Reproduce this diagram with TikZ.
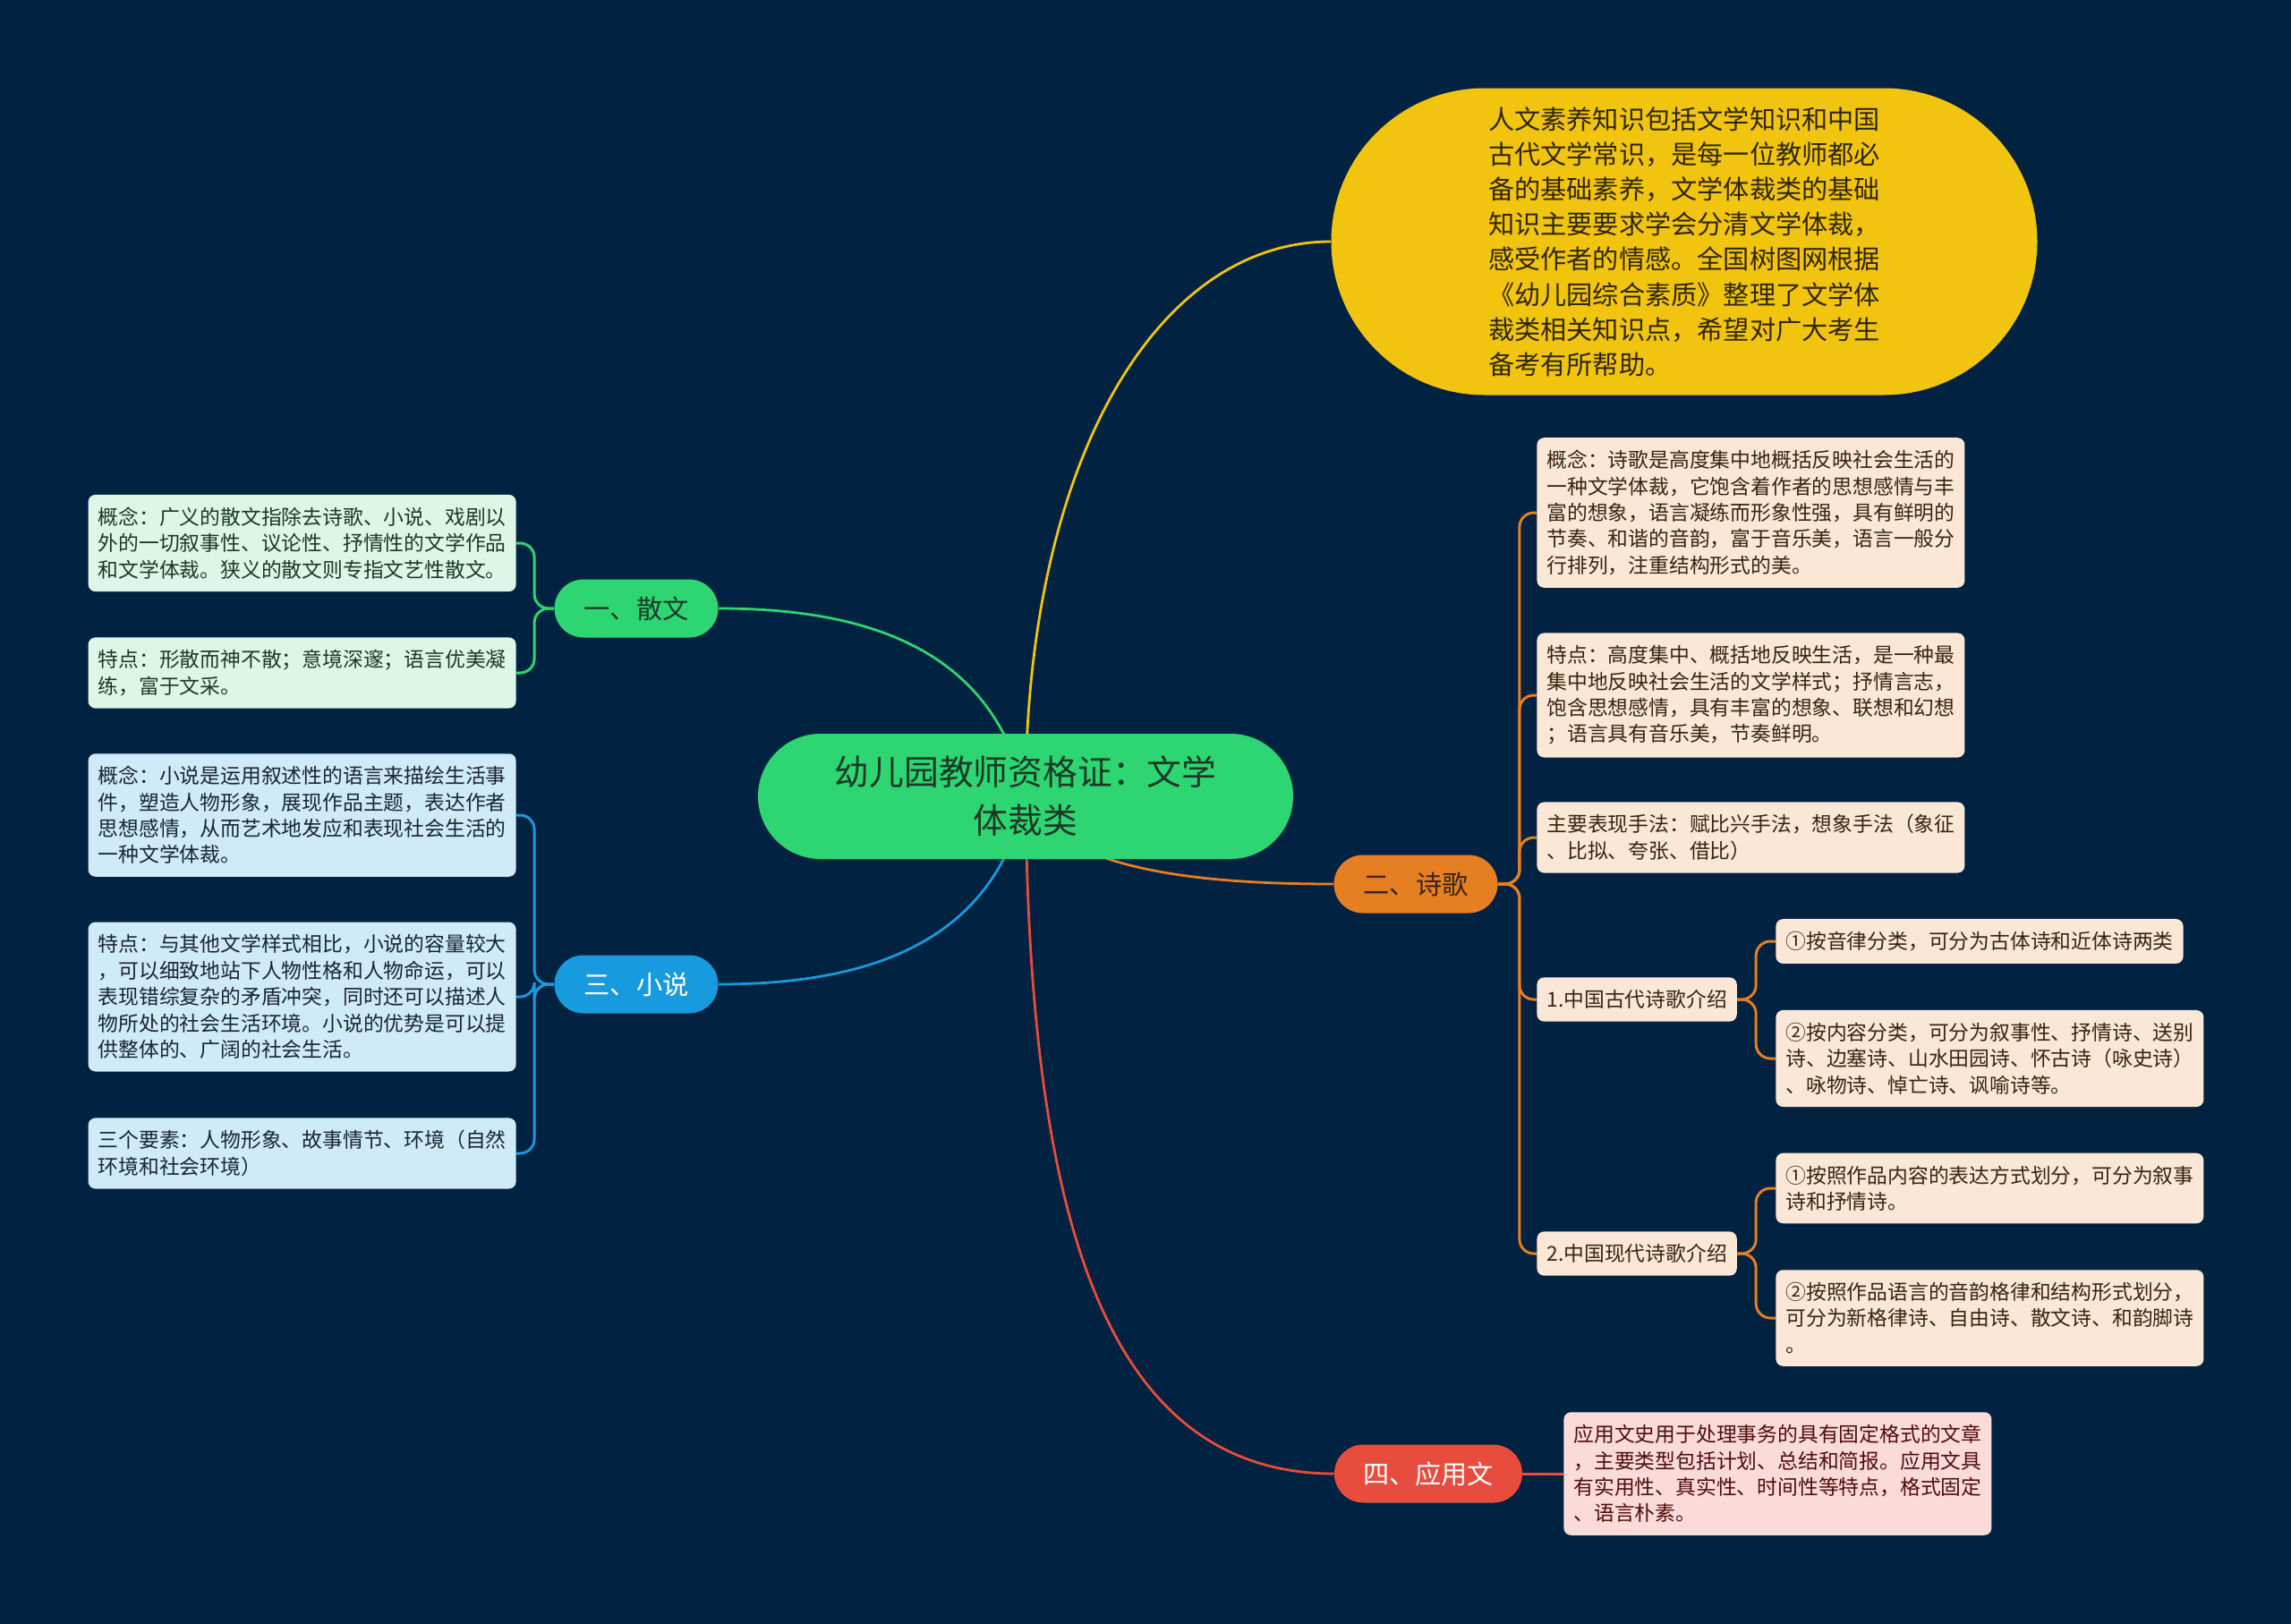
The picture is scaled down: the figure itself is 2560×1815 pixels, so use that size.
\documentclass[tikz,border=0pt]{standalone}
\usepackage{fontspec}
\setmainfont{Noto Sans CJK SC}
\usetikzlibrary{shapes.misc}
\usetikzlibrary{backgrounds}
\definecolor{bg}{RGB}{1,34,64}
\definecolor{grn}{RGB}{46,213,115}
\definecolor{grnleaf}{RGB}{222,246,232}
\definecolor{grntext}{RGB}{26,58,38}
\definecolor{blu}{RGB}{24,154,222}
\definecolor{bluleaf}{RGB}{207,234,248}
\definecolor{blutext}{RGB}{24,38,52}
\definecolor{org}{RGB}{230,126,34}
\definecolor{orgleaf}{RGB}{250,231,214}
\definecolor{orgtext}{RGB}{58,36,16}
\definecolor{rd}{RGB}{231,76,60}
\definecolor{rdleaf}{RGB}{250,219,216}
\definecolor{rdtext}{RGB}{80,12,12}
\definecolor{yel}{RGB}{241,196,15}
\definecolor{yeltext}{RGB}{48,38,0}

\begin{document}
\begin{tikzpicture}[x=0.5pt, y=-0.5pt,
  pill/.style={rounded rectangle, inner xsep=0pt, inner ysep=0pt, align=center},
  branch/.style={pill, minimum width=91.5pt, minimum height=32.5pt, font=\fontsize{14.6}{17}\selectfont},
  leafbox/.style={rounded corners=4pt, inner xsep=5.5pt, inner ysep=7pt, align=left, font=\fontsize{11.4}{14.7}\selectfont},
  lnk/.style={line width=1.5pt, rounded corners=8pt}]
\useasboundingbox (0,0) rectangle (2560,1815);
% centre and intro
\node[pill, fill=grn, text=grntext, minimum width=299pt, minimum height=70pt, font=\fontsize{19.4}{27}\selectfont] (root) at (1146,890) {幼儿园教师资格证：文学\\体裁类};
\node[pill, fill=yel, text=yeltext, minimum width=398.5pt, minimum height=171.5pt, inner xsep=2pt, align=left, font=\fontsize{14.6}{19.6}\selectfont] (intro) at (1882,270) {人文素养知识包括文学知识和中国\\古代文学常识，是每一位教师都必\\备的基础素养，文学体裁类的基础\\知识主要要求学会分清文学体裁，\\感受作者的情感。全国树图网根据\\《幼儿园综合素质》整理了文学体\\裁类相关知识点，希望对广大考生\\备考有所帮助。};
% branches
\node[branch, fill=grn, text=grntext] (sanwen) at (711,680) {一、散文};
\node[branch, fill=blu, text=white] (xiaoshuo) at (711,1100) {三、小说};
\node[branch, fill=org, text=orgtext] (shige) at (1582,988) {二、诗歌};
\node[branch, fill=rd, text=white, minimum width=105pt] (yingyong) at (1596,1647) {四、应用文};
% left leaves
\node[leafbox, fill=grnleaf, text=grntext, anchor=east] (sw1) at (577,607) {概念：广义的散文指除去诗歌、小说、戏剧以\\外的一切叙事性、议论性、抒情性的文学作品\\和文学体裁。狭义的散文则专指文艺性散文。};
\node[leafbox, fill=grnleaf, text=grntext, anchor=east] (sw2) at (577,752) {特点：形散而神不散；意境深邃；语言优美凝\\练，富于文采。};
\node[leafbox, fill=bluleaf, text=blutext, anchor=east] (xs1) at (577,911) {概念：小说是运用叙述性的语言来描绘生活事\\件，塑造人物形象，展现作品主题，表达作者\\思想感情，从而艺术地发应和表现社会生活的\\一种文学体裁。};
\node[leafbox, fill=bluleaf, text=blutext, anchor=east] (xs2) at (577,1114) {特点：与其他文学样式相比，小说的容量较大\\，可以细致地站下人物性格和人物命运，可以\\表现错综复杂的矛盾冲突，同时还可以描述人\\物所处的社会生活环境。小说的优势是可以提\\供整体的、广阔的社会生活。};
\node[leafbox, fill=bluleaf, text=blutext, anchor=east] (xs3) at (577,1289) {三个要素：人物形象、故事情节、环境（自然\\环境和社会环境）};
% right leaves
\node[leafbox, fill=orgleaf, text=orgtext, anchor=west] (sg1) at (1717,573) {概念：诗歌是高度集中地概括反映社会生活的\\一种文学体裁，它饱含着作者的思想感情与丰\\富的想象，语言凝练而形象性强，具有鲜明的\\节奏、和谐的音韵，富于音乐美，语言一般分\\行排列，注重结构形式的美。};
\node[leafbox, fill=orgleaf, text=orgtext, anchor=west] (sg2) at (1717,777) {特点：高度集中、概括地反映生活，是一种最\\集中地反映社会生活的文学样式；抒情言志，\\饱含思想感情，具有丰富的想象、联想和幻想\\；语言具有音乐美，节奏鲜明。};
\node[leafbox, fill=orgleaf, text=orgtext, anchor=west] (sg3) at (1717,936) {主要表现手法：赋比兴手法，想象手法（象征\\、比拟、夸张、借比）};
\node[leafbox, fill=orgleaf, text=orgtext, anchor=west] (sg4) at (1717,1117) {1.中国古代诗歌介绍};
\node[leafbox, fill=orgleaf, text=orgtext, anchor=west] (sg5) at (1717,1401) {2.中国现代诗歌介绍};
\node[leafbox, fill=orgleaf, text=orgtext, anchor=west] (gd1) at (1984,1052) {①按音律分类，可分为古体诗和近体诗两类};
\node[leafbox, fill=orgleaf, text=orgtext, anchor=west] (gd2) at (1984,1183) {②按内容分类，可分为叙事性、抒情诗、送别\\诗、边塞诗、山水田园诗、怀古诗（咏史诗）\\、咏物诗、悼亡诗、讽喻诗等。};
\node[leafbox, fill=orgleaf, text=orgtext, anchor=west] (xd1) at (1984,1328) {①按照作品内容的表达方式划分，可分为叙事\\诗和抒情诗。};
\node[leafbox, fill=orgleaf, text=orgtext, anchor=west] (xd2) at (1984,1473) {②按照作品语言的音韵格律和结构形式划分，\\可分为新格律诗、自由诗、散文诗、和韵脚诗\\。};
\node[leafbox, fill=rdleaf, text=rdtext, anchor=west] (yy1) at (1747,1647) {应用文史用于处理事务的具有固定格式的文章\\，主要类型包括计划、总结和简报。应用文具\\有实用性、真实性、时间性等特点，格式固定\\、语言朴素。};
\begin{scope}[on background layer]
\fill[bg] (0,0) rectangle (2560,1815);
\draw[yel, line width=1.4pt] (root.center) .. controls (1146,520) and (1290,270) .. (intro.west);
\draw[grn, line width=1.4pt] (root.center) .. controls (1110,720) and (960,680) .. (sanwen.east);
\draw[blu, line width=1.4pt] (root.center) .. controls (1110,1060) and (960,1100) .. (xiaoshuo.east);
\draw[org, line width=1.4pt] (root.center) .. controls (1180,970) and (1330,988) .. (shige.west);
\draw[rd, line width=1.4pt] (root.center) .. controls (1150,1350) and (1230,1647) .. (yingyong.west);
\foreach \n in {sw1,sw2} \draw[lnk, grn] (sanwen.west) -- ++(-22,0) |- (\n.east);
\foreach \n in {xs1,xs2,xs3} \draw[lnk, blu] (xiaoshuo.west) -- ++(-22,0) |- (\n.east);
\foreach \n in {sg1,sg2,sg3,sg4,sg5} \draw[lnk, org] (shige.east) -- ++(24,0) |- (\n.west);
\foreach \n in {gd1,gd2} \draw[lnk, org] (sg4.east) -- ++(21,0) |- (\n.west);
\foreach \n in {xd1,xd2} \draw[lnk, org] (sg5.east) -- ++(21,0) |- (\n.west);
\draw[lnk, rd] (yingyong.east) -- (yy1.west);
\end{scope}
\end{tikzpicture}
\end{document}
